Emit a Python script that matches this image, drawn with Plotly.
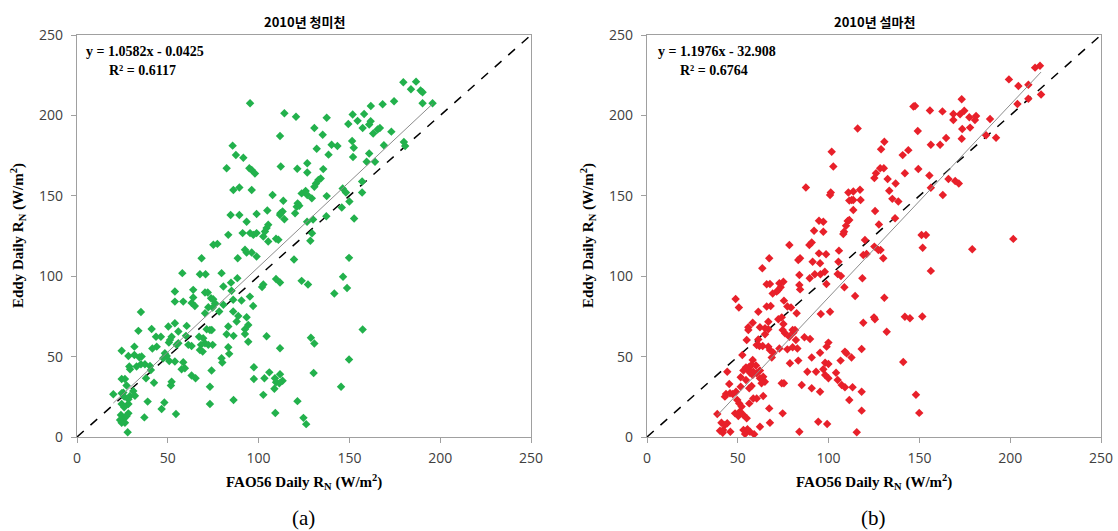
import plotly.graph_objects as go

# ---------------- data ----------------
panel_titles = ["2010년 청미천", "2010년 설마천"]
panel_labels = ["(a)", "(b)"]
equations = ["y = 1.0582x - 0.0425", "y = 1.1976x - 32.908"]
r2_texts = ["R² = 0.6117", "R² = 0.6764"]
slopes = [1.0582, 1.1976]
intercepts = [-0.0425, -32.908]
axis_ticks = [0, 50, 100, 150, 200, 250]

# (FAO56 daily Rn, Eddy daily Rn) - 청미천
cheongmi_points = [
    (58,101.9),(67.7,101.2),(70.8,101.2),(79.6,101.9),(84.8,96),(88.3,98.8),(80.6,93.6),(85.1,90.9),
    (53.9,90.5),(53.9,84.2),(58.5,84.2),(64,91.5),(64,86.7),(70.5,89.8),(72,89.8),(73.8,86.3),(75,85.7),
    (76,83.2),(74.7,80.5),(80.6,82.2),(86,85.3),(90.6,84.9),(95.2,87.3),(97,81.5),(70.5,77),(72.3,80.7),
    (78.3,78),(86,78),(88.8,75.3),(87.9,71.8),(93.4,74.5),(92.5,67),(94.3,69.7),(35.2,77.8),(33.8,66),
    (41.1,67.2),(43.5,62.4),(46.2,62.4),(50.3,68.7),(53.9,70.7),(55.8,65.6),(52.1,62.4),(51.2,60.4),
    (50.6,58.7),(60.4,69.1),(60,62.9),(55.8,58.3),(54.9,57.3),(67.2,62.4),(69.5,61.4),(70.5,58.3),
    (68.3,57.3),(72.3,57.3),(74.7,57.3),(74.2,66.6),(61.3,57.3),(63.1,56.6),(67.7,54.1),(69.2,53.1),
    (43.9,56.2),(41.5,55),(31.6,56.2),(24.6,53.7),(48.4,52.1),(49.4,50.4),(47.5,49),(50.8,47.3),
    (53.9,46.9),(58.5,46.5),(59.4,42.7),(57.6,42.1),(63.1,38.2),(65.3,36.5),(52.1,34.4),(51.7,32),
    (28.3,50.4),(31.6,51),(34.3,49.6),(35.6,50),(29.2,42.1),(28.8,43.8),(32.8,43.8),(35.2,45.2),
    (37.4,45.2),(40.2,44.2),(40.7,41.7),(38,36.5),(42.4,33.8),(24.6,36.1),(26.4,36.1),(27.3,32),
    (25.5,27.6),(20,26.6),(24.6,27.2),(26,25.1),(29.2,25.5),(31,28.6),(31.9,25.7),(24.6,20.5),
    (28.3,20.5),(28.3,23.4),(26,18.5),(38.9,22),(24.2,13.7),(26,11.6),(23.7,10.6),(26.4,8.9),
    (24.6,8.9),(28.3,14.7),(27.3,13.1),(27.9,2.9),(37.1,12.2),(48.1,21.4),(46.6,17.4),(54.5,14.3),
    (73.2,31.3),(73.2,20.5),(86.2,23),(74.1,41.3),(80,46.3),(79.6,49),(83.3,55.8),(83.8,51.7),
    (86.2,62.9),(92.5,64.1),(94.3,59.3),(97.4,43.4),(97.4,36.1),(82.4,63.9),(83.3,68.7),(63.1,83.4),
    (64.9,81.5),(71.4,67),(73.2,66.6),
    (95.3,207.5),(114.2,201.3),(120.6,199.2),(111.8,187.2),(85.7,181.2),(87.5,175.4),(91.6,173.7),
    (82.4,167.1),(94.9,167.1),(96.2,166),(98,163.9),(112.2,168.2),(121.3,166.8),(126.8,170.3),
    (126.8,164.5),(86.1,153.6),(89.4,155.2),(96.2,153.6),(107.7,150.5),(113.6,146.9),(121,143.2),
    (121.5,145.3),(122.4,143.8),(120.1,139.1),(123.7,151.5),(125.9,153),(126.8,150.5),(84.6,138),
    (89.4,138),(98.9,138.7),(104.8,140.8),(112,139.1),(113.2,140.2),(114.2,135.4),(111.8,138),
    (93.4,133.9),(83.3,125.7),(91.2,126.8),(95.3,126.8),(97.1,125.7),(98.9,126.8),(102.6,124.7),
    (103.5,127.8),(104.4,129.9),(105.3,132),(105.3,121.6),(109.6,123.3),(110.9,122.7),(75.1,119.5),
    (77.3,120.1),(68.6,111.2),(88.5,111.2),(92.5,116.4),(93.4,114.7),(96.2,114.7),(98.9,112.2),
    (119.5,110.4),
    (179.7,220.6),(186.7,221),(183.9,216.3),(189.2,215.5),(190.3,214.4),(190.3,207.6),(195.8,207.6),
    (174.6,208.8),(168.3,206.9),(161.8,205.9),(158.1,200.9),(151.8,200.5),(154.5,196.6),(149.4,194.7),
    (157.3,192.2),(160.9,194.3),(161.7,196.3),(163.1,188.7),(165.5,191.2),(166.8,192.2),(173.1,189.9),
    (137.5,198.6),(135.3,188),(130.7,192.2),(151.5,184.1),(152.4,179.9),(152,174.1),(140.2,181.8),
    (143.4,181),(132,179.3),(138.5,175.6),(160.9,176.3),(159.5,171.2),(164.1,171.2),(169,181.4),
    (180,183.5),(180.7,181),(135.6,166.6),(134.2,160.8),(132.9,159.8),(131.6,157.7),(130.7,155.6),
    (129.3,148.4),(137.5,149.8),(146.3,154.6),(148.1,152.1),(150,146.5),(157,158.9),(157,152.1),
    (145.8,142.7),(152.6,135.9),(137.3,137.3),(126.7,133.8),(130,135.3),(129.4,126.7),(128.5,122.1),
    (123.7,97.1),(127.2,94.8),(109.6,98.2),(111.8,96.1),(102.6,94.9),(101.9,93.3),(149.8,111.4),
    (146.5,99.6),(148.7,92.7),(141.7,89.2),(128.8,61.7),(130.7,58.2),(104.4,62.7),(111.8,55.2),
    (157.3,66.8),(149.8,48.2),(103.2,36.5),(105.9,40.2),(109,36.5),(109.6,34),(111.8,39),(113.2,35),
    (111.4,33.4),(108.7,30),(102.6,26.2),(130.3,39.8),(145.4,31.3),(121.4,22.3),(124.7,11.9),
    (126.2,8),(109.2,14.9),
]

# (FAO56 daily Rn, Eddy daily Rn) - 설마천
seolma_points = [
    (92,128.3),(97.1,127.7),(108.5,127.7),(108.1,126.2),(78.4,119.4),(89.4,119.4),(90.7,120.9),
    (67.3,111.1),(63.5,104.9),(83.3,110.1),(84.3,111.1),(91.2,109),(95.3,108),(94.7,114.2),(98.6,113.6),
    (105.7,115.9),(105.4,109),(120,122.5),(125.2,118.4),(127.4,116.3),(128.6,116.3),(130.1,111.1),
    (119.1,113.2),(120.9,113.8),(83.9,100.7),(89.6,98.7),(92.4,101.2),(95.5,101.2),(97.9,102.8),
    (98.8,95.1),(105,101.4),(106.8,100.1),(108.7,93.1),(118.6,98.7),(114.6,87.7),(65.9,95),(67.7,95.1),
    (72.9,95.6),(75.1,96.6),(73.6,93.1),(72.3,91.4),(71.4,90.4),(69.2,89.3),(83.9,94.5),(84.3,91.8),
    (48.8,85.8),(50.6,80.6),(65.9,81.1),(68.1,81.5),(61.3,77.9),(75.4,84.8),(77.3,81.1),(79.3,80.6),
    (82.4,76.9),(66.8,71.7),(58.2,71.1),(55.8,68.2),(62.2,68.2),(65,67.6),(72.3,73.2),(74.2,74.4),
    (75.1,70.3),(74.7,66.5),(76,64.5),(80.2,66.5),(81.5,66.5),(80.6,64.9),(82,60.3),(78.4,62.4),
    (66.8,67),(65,63.9),(61.3,60.7),(54.9,60.3),(55.8,66.5),(100.8,77.9),(95.7,76.5),(86.7,62),
    (89.8,60.9),(119.1,71.1),(125,74.4),(125.5,73.2),(132,65.5),(130.7,86.6),(60.4,57.2),(61.9,56.6),
    (63.7,56.6),(66.8,56.2),(67.7,54.1),(69.6,52.4),(72.9,55.1),(77.3,54.5),(80.2,55.8),(82.8,55.1),
    (68.7,49.5),(52.5,51),(58.2,47.9),(57.6,44.8),(56.3,43.7),(60,44.4),(58.5,40.6),(60.4,39.6),
    (62.2,41.3),(64,37.5),(64.9,34.4),(63.1,33.4),(62.2,36.5),(78.7,45.8),(83.3,47.5),(90.7,49.5),
    (95.3,52.4),(98.1,46.2),(99.9,45.4),(97.1,42.1),(98.9,56.2),(99.9,58.7),(88.3,40.6),(93.1,40.6),
    (98.1,38.6),(104.1,40),(105,35.5),(106.6,47.5),(109,53.1),(109.9,52),(112.6,49.5),(118.2,54.7),
    (107.2,32.3),(109,30.9),(113.2,30.9),(111.4,23),(118.2,16.4),(118.2,28.2),(115.5,2.9),(99.2,8.1),
    (94.3,9.5),(83.9,3.3),(74.7,14.7),(85.2,32.3),(90.7,30.3),(95.3,28.2),(99.9,36.5),(74.2,33.4),
    (75.4,33.4),(45.3,33),(44.2,40.6),(51.6,37.1),(53.1,41.3),(54.5,43.3),(55.8,41.7),(56.7,40),
    (58.2,38.6),(54.5,35.5),(56.3,30.3),(57.6,31.7),(51.6,31.3),(43.5,26.7),(45.7,27.2),(47.2,26.7),
    (49,28.2),(42.9,25.1),(49.7,23),(50.8,20.9),(52.1,18.9),(51.2,15.8),(53.1,13.7),(50.3,13.1),
    (48.5,14.7),(54.9,11.6),(56.3,20.9),(58.5,24),(60.4,24),(64,25.5),(67.3,17.8),(67.7,8.9),
    (62.2,6.4),(38.7,14.3),(41,8.9),(42.9,7.5),(44.2,8.5),(41.9,4.4),(45.9,3.3),(41.7,2.7),(53.1,4.4),
    (55.3,4.8),(56.7,3.3),(54,1.9),(59,1.7),(40.2,3.9),
    (116,191.9),(101.7,177.4),(102.6,168.2),(87.5,155.2),(100.8,150.5),(101.2,152),(110.9,152),
    (113.6,152.7),(117.3,153.7),(111.4,147),(112.7,147.4),(113.6,147.4),(117.6,147.4),(113.6,141.2),
    (110.5,134.3),(111.4,135),(109.6,131.3),(97.1,133.8),(94.7,134.5),
    (213.7,229.7),(216.4,230.9),(199.3,222.4),(204.5,218.3),(210,219.1),(204,207.1),(210,210.4),
    (217,213),(173.3,210),(168.7,200.9),(172.4,200.7),(168.7,197.2),(174.7,202.9),(177.5,198.9),
    (180.6,197.2),(181.2,199.6),(177.9,192.4),(173.6,191.6),(173.3,185.5),(155.8,203.1),(162.7,202.5),
    (164.7,185.9),(161.4,181.8),(156.3,181.8),(155.5,162.6),(156.3,155),(166,160.4),(169.7,159.2),
    (171.7,157.7),(162.9,150.5),(186.7,187.6),(192.2,186.1),(188.9,197.8),(201.7,123.2),(179.1,116.7),
    (151.2,125.6),(153.6,125.6),(151.8,117.7),(156.3,103.3),(151.6,75),(144.8,73.9),(142,74.8),
    (141.1,46.7),(148.1,26.3),(149.9,15),(125.6,140.5),(127.7,132.2),(125.2,161),(126.1,164),
    (128.4,167.1),(130.4,167.1),(132.5,160.5),(136.9,157.7),(133.4,153.1),(135.1,148.1),(138.4,146.5),
    (136.6,136.1),(142,164),(140.8,175.3),(143.9,178.4),(128.9,178.9),(130.7,183.6),(146.7,205.6),
    (147.6,205.8),(149.1,190.3),(149.4,166.7),
]

marker_colors = ["#22B14C", "#E8202A"]

# ---------------- figure ----------------
W, H = 1118, 531
L, R, T, B = 77, 17, 35, 94
pw = W - L - R
ph = H - T - B
left_dom = [0, (531 - 77) / pw]
right_dom = [(647 - 77) / pw, 1]

fig = go.Figure()
panels = [cheongmi_points, seolma_points]
axes = [("x", "y"), ("x2", "y2")]

for i, pts in enumerate(panels):
    xs = [p[0] for p in pts]
    ys = [p[1] for p in pts]
    xa, ya = axes[i]
    fig.add_trace(go.Scatter(x=[axis_ticks[0], axis_ticks[-1]], y=[axis_ticks[0], axis_ticks[-1]],
                             mode="lines", line=dict(color="black", width=1.5, dash="dash"),
                             xaxis=xa, yaxis=ya, hoverinfo="skip"))
    fig.add_trace(go.Scatter(x=xs, y=ys, mode="markers",
                             marker=dict(symbol="diamond", size=6.5, color=marker_colors[i],
                                         line=dict(width=0)),
                             xaxis=xa, yaxis=ya))
    x0, x1 = min(xs), max(xs)
    fig.add_trace(go.Scatter(x=[x0, x1], y=[slopes[i] * x0 + intercepts[i], slopes[i] * x1 + intercepts[i]],
                             mode="lines", line=dict(color="#8C8C8C", width=1),
                             xaxis=xa, yaxis=ya, hoverinfo="skip"))

axis_common = dict(range=[0, 250], tickvals=axis_ticks, showgrid=False, zeroline=False,
                   showline=True, linecolor="#A0A0A0", linewidth=1.2, mirror=True,
                   ticks="outside", ticklen=5, tickcolor="#A0A0A0", automargin=False,
                   tickfont=dict(family="Open Sans", size=14, color="#404040"))
x_common = dict(axis_common, ticklabelstandoff=3)
y_common = dict(axis_common, ticklabelstandoff=5)

fig.update_layout(
    width=W, height=H, margin=dict(l=L, r=R, t=T, b=B, pad=0),
    plot_bgcolor="white", paper_bgcolor="white", showlegend=False,
    xaxis=dict(domain=left_dom, anchor="y", **x_common),
    yaxis=dict(domain=[0, 1], anchor="x", **y_common),
    xaxis2=dict(domain=right_dom, anchor="y2", **x_common),
    yaxis2=dict(domain=[0, 1], anchor="x2", **y_common),
)

def px2x(px):
    return (px - L) / pw

def py2y(py):
    return (H - B - py) / ph

serif = "Liberation Serif"
annots = []
centers = [304, 874]
ytitle_x = [18, 588]
eq_x = [145, 717]

def ann(px, py, text, font, **kw):
    d = dict(x=px2x(px), y=py2y(py), xref="paper", yref="paper", text=text, showarrow=False,
             xanchor="center", yanchor="middle", font=font)
    d.update(kw)
    return d

for i in range(2):
    annots.append(ann(centers[i], 21, "<b>" + panel_titles[i] + "</b>",
                      dict(family="Noto Sans CJK KR", size=13, color="black")))
    annots.append(ann(centers[i], 482, "<b>FAO56 Daily R<sub>N</sub> (W/m<sup>2</sup>)</b>",
                      dict(family=serif, size=15, color="black")))
    annots.append(ann(ytitle_x[i], 236, "<b>Eddy Daily R<sub>N</sub> (W/m<sup>2</sup>)</b>",
                      dict(family=serif, size=15, color="black"), textangle=-90))
    annots.append(ann(eq_x[i], 52, "<b>" + equations[i] + "</b>",
                      dict(family=serif, size=14, color="black")))
    annots.append(ann(eq_x[i] - 3, 70, "<b>" + r2_texts[i] + "</b>",
                      dict(family=serif, size=14, color="black")))
    annots.append(ann(centers[i] - 1, 518, panel_labels[i],
                      dict(family=serif, size=21, color="black")))

fig.update_layout(annotations=annots)
fig.write_html("out.html", config={"displayModeBar": False})

# remove the default page margin so the figure sits at the window's top-left corner
with open("out.html", "r", encoding="utf-8") as f:
    html = f.read()
html = html.replace("<head>", "<head><style>html,body{margin:0;padding:0;overflow:hidden;}</style>", 1)
with open("out.html", "w", encoding="utf-8") as f:
    f.write(html)
